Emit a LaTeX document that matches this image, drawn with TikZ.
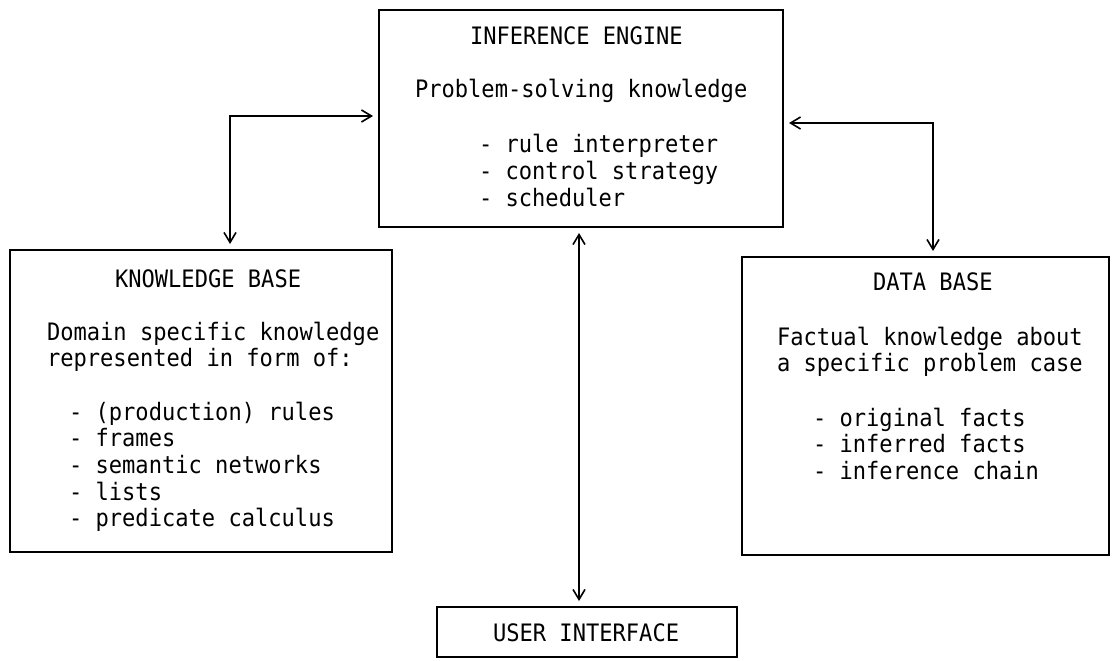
\documentclass[tikz,border=0pt]{standalone}
\usepackage{fontspec}
\setmonofont[FakeStretch=0.92]{DejaVu Sans Mono}
\usetikzlibrary{arrows.meta}
\begin{document}
\begin{tikzpicture}[x=1pt,y=-1pt,
  box/.style={draw=black,line width=1.7pt,rectangle,inner sep=0pt,outer sep=0pt},
  txt/.style={anchor=base west,inner sep=0pt,outer sep=0pt,font=\ttfamily\fontsize{24}{26.7}\selectfont},
  conn/.style={line width=1.6pt,{Straight Barb[length=10pt,width=12pt,line width=1.6pt]}-{Straight Barb[length=10pt,width=12pt,line width=1.6pt]},shorten <=6pt,shorten >=6pt}]
\useasboundingbox (0,0) rectangle (1112,661);
\fill[white] (0,0) rectangle (1112,661);
% boxes
\node[box,minimum width=404pt,minimum height=217pt] (ie) at (581,118.5) {};
\node[box,minimum width=382pt,minimum height=302pt] (kb) at (201,401) {};
\node[box,minimum width=367pt,minimum height=298pt] (db) at (925.5,406) {};
\node[box,minimum width=300pt,minimum height=50pt] (ui) at (587,632) {};
% inference engine text
\node[txt] (ie1) at (470,45) {INFERENCE ENGINE};
\node[txt] (ie2) at (415,97) {Problem-solving knowledge};
\node[txt] (ie3) at (479,153) {- rule interpreter};
\node[txt] (ie4) at (479,179.7) {- control strategy};
\node[txt] (ie5) at (479,206.4) {- scheduler};
% knowledge base text
\node[txt] (kb1) at (115,287) {KNOWLEDGE BASE};
\node[txt] (kb2) at (47,340) {Domain specific knowledge};
\node[txt] (kb3) at (47,366.7) {represented in form of:};
\node[txt] (kb4) at (69,420) {- (production) rules};
\node[txt] (kb5) at (69,446.7) {- frames};
\node[txt] (kb6) at (69,473.4) {- semantic networks};
\node[txt] (kb7) at (69,500.1) {- lists};
\node[txt] (kb8) at (69,526.8) {- predicate calculus};
% data base text
\node[txt] (db1) at (873,290) {DATA BASE};
\node[txt] (db2) at (777,345) {Factual knowledge about};
\node[txt] (db3) at (777,371.7) {a specific problem case};
\node[txt] (db4) at (813,426) {- original facts};
\node[txt] (db5) at (813,452.7) {- inferred facts};
\node[txt] (db6) at (813,479.4) {- inference chain};
% user interface text
\node[txt] (ui1) at (493,641) {USER INTERFACE};
% connectors
\coordinate (kl) at (230,116);
\coordinate (dr) at (933,123);
\coordinate (mx) at (579,0);
\draw[conn] (kl |- kb.north) -- (kl) -- (ie.west |- kl);
\draw[conn] (ie.east |- dr) -- (dr) -- (dr |- db.north);
\draw[conn] (mx |- ie.south) -- (mx |- ui.north);
\end{tikzpicture}
\end{document}
